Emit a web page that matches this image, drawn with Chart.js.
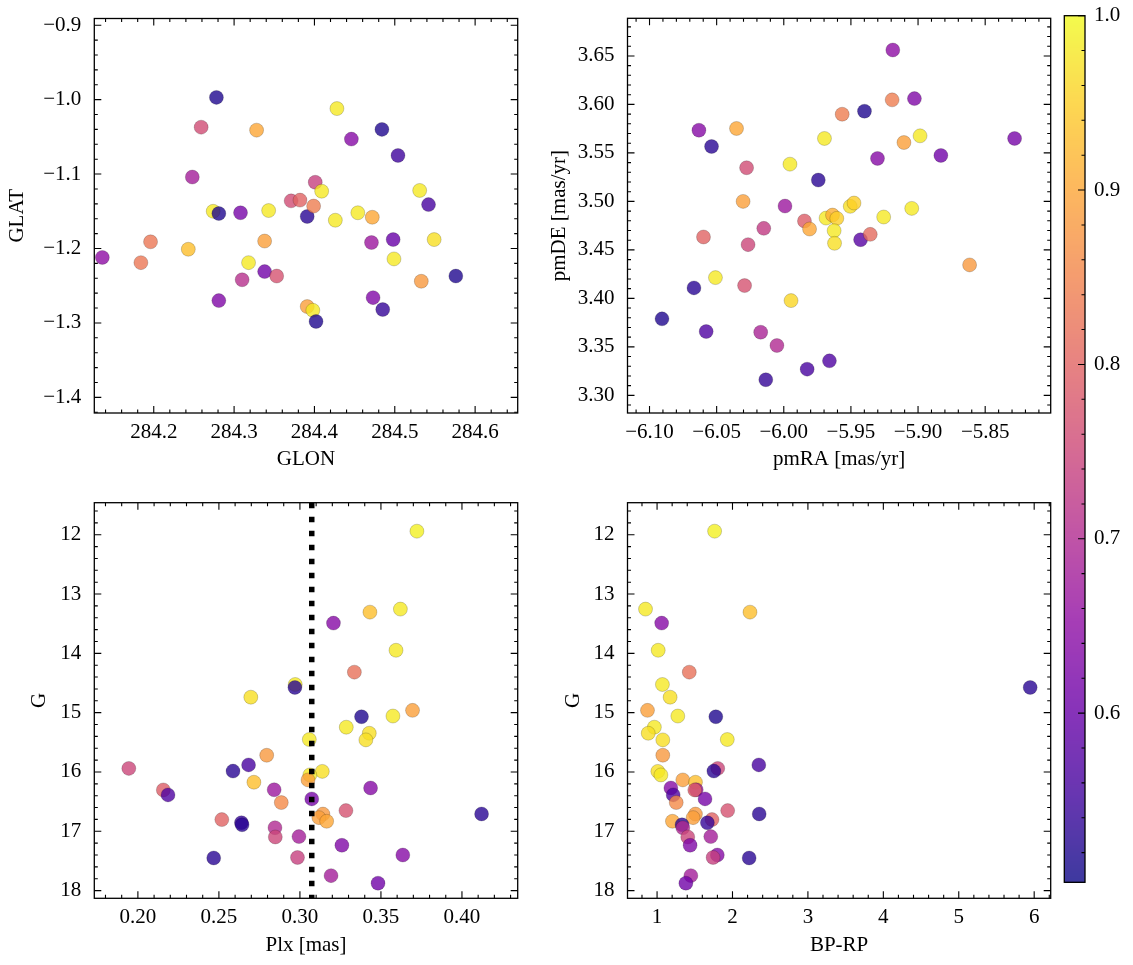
<!DOCTYPE html>
<html>
<head>
<meta charset="utf-8">
<script src="https://cdn.jsdelivr.net/npm/chart.js"></script>
<style>
  html, body { margin: 0; padding: 0; background: #fff; }
  #wrap { position: relative; width: 1133px; height: 965px; }
  canvas { position: absolute; }
</style>
</head>
<body>
<div id="wrap">
  <canvas id="posChart" width="565" height="485" style="left:0;top:0"></canvas>
  <canvas id="pmChart" width="560" height="485" style="left:540px;top:0"></canvas>
  <canvas id="plxChart" width="565" height="480" style="left:0;top:485px"></canvas>
  <canvas id="cmdChart" width="560" height="480" style="left:540px;top:485px"></canvas>
  <canvas id="cbarChart" width="83" height="965" style="left:1050px;top:0"></canvas>
</div>
<script>
// Galactic position panel
const glon = [284.136, 284.184, 284.196, 284.243, 284.259, 284.248, 284.274, 284.281, 284.278, 284.281,
              284.308, 284.310, 284.328, 284.318, 284.338, 284.338, 284.343, 284.353, 284.371, 284.382,
              284.391, 284.401, 284.399, 284.409, 284.391, 284.398, 284.402, 284.428, 284.426, 284.446,
              284.454, 284.472, 284.471, 284.473, 284.484, 284.485, 284.498, 284.499, 284.504, 284.531,
              284.533, 284.542, 284.549, 284.576];
const glat = [-1.212, -1.219, -1.191, -1.201, -1.037, -1.104, -1.150, -1.153, -0.997, -1.270,
              -1.152, -1.242, -1.041, -1.219, -1.231, -1.190, -1.149, -1.237, -1.136, -1.135,
              -1.157, -1.111, -1.143, -1.123, -1.278, -1.283, -1.298, -1.012, -1.162, -1.053,
              -1.152, -1.158, -1.192, -1.266, -1.040, -1.282, -1.188, -1.214, -1.075, -1.122,
              -1.244, -1.141, -1.188, -1.237];
const probPos = [0.65, 0.83, 0.83, 0.93, 0.76, 0.68, 0.98, 0.52, 0.52, 0.63,
                 0.62, 0.71, 0.90, 0.98, 0.61, 0.89, 0.98, 0.77, 0.76, 0.80,
                 0.53, 0.74, 0.84, 0.98, 0.89, 0.98, 0.52, 0.98, 0.98, 0.64,
                 0.98, 0.90, 0.67, 0.63, 0.52, 0.54, 0.60, 0.98, 0.55, 0.98,
                 0.88, 0.56, 0.97, 0.52];

// Proper motion panel
const pmra = [-6.0907, -6.0669, -6.0578, -6.0632, -6.0538, -6.0598, -6.0509, -6.0352, -6.0303, -6.0277,
              -6.0266, -6.0292, -6.0172, -6.0134, -6.0149, -6.0051, -5.9991, -5.9954, -5.9946, -5.9846,
              -5.9826, -5.9808, -5.9743, -5.9697, -5.9685, -5.9637, -5.9605, -5.9625, -5.9622, -5.9660,
              -5.9565, -5.9505, -5.9477, -5.9428, -5.9399, -5.9356, -5.9302, -5.9256, -5.9188, -5.9193,
              -5.9105, -5.9047, -5.9027, -5.8985, -5.8830, -5.8616, -5.8281];
const pmde = [3.3789, 3.4108, 3.3658, 3.5734, 3.5566, 3.4633, 3.4214, 3.5752, 3.5000, 3.5347,
              3.4554, 3.4132, 3.3651, 3.3161, 3.4722, 3.3514, 3.4952, 3.5384, 3.3977, 3.4798,
              3.3270, 3.4715, 3.5220, 3.5649, 3.4828, 3.4859, 3.4825, 3.4698, 3.4568, 3.3356,
              3.5899, 3.4949, 3.4983, 3.4605, 3.5930, 3.4660, 3.5443, 3.4839, 3.6561, 3.6047,
              3.5607, 3.4928, 3.6060, 3.5676, 3.5474, 3.4345, 3.5649];
const probPm = [0.52, 0.53, 0.57, 0.64, 0.53, 0.80, 0.98, 0.90, 0.89, 0.76,
                0.75, 0.77, 0.69, 0.54, 0.73, 0.70, 0.67, 0.98, 0.96, 0.79,
                0.56, 0.90, 0.53, 0.98, 0.98, 0.91, 0.95, 0.98, 0.97, 0.57,
                0.84, 0.97, 0.95, 0.58, 0.52, 0.81, 0.64, 0.98, 0.65, 0.84,
                0.89, 0.98, 0.63, 0.98, 0.61, 0.88, 0.62];

// Photometry / parallax of the same stars (bottom panels)
const gmag = [11.94, 13.254, 13.305, 13.49, 13.948, 14.317, 14.525, 14.575, 14.739, 14.961,
              15.057, 15.069, 15.245, 15.347, 15.453, 15.459, 15.718, 15.881, 15.94, 15.985,
              15.99, 16.05, 16.134, 16.173, 16.27, 16.30, 16.303, 16.387, 16.454, 16.516,
              16.651, 16.708, 16.71, 16.77, 16.803, 16.831, 16.856, 16.89, 16.94, 17.09,
              17.096, 17.236, 17.40, 17.442, 17.45, 17.748, 17.875];
const plx = [0.3722, 0.3620, 0.3432, 0.3207, 0.3593, 0.3336, 0.2971, 0.2969, 0.2697, 0.3695,
             0.3574, 0.3380, 0.3286, 0.3428, 0.3058, 0.3407, 0.2795, 0.2683, 0.1944, 0.2587,
             0.3138, 0.3061, 0.3050, 0.2716, 0.3436, 0.2841, 0.2157, 0.2186, 0.3073, 0.2885,
             0.3284, 0.4121, 0.3142, 0.3117, 0.2518, 0.3165, 0.2639, 0.2643, 0.2846, 0.2994,
             0.2848, 0.3259, 0.3635, 0.2985, 0.2468, 0.3192, 0.3482];
const bprp = [1.763, 0.847, 2.232, 1.061, 1.015, 1.427, 1.071, 5.947, 1.173, 0.873,
              1.275, 1.779, 0.964, 0.883, 1.931, 1.076, 1.076, 2.349, 1.804, 1.753,
              1.010, 1.051, 1.341, 1.509, 1.183, 1.519, 1.500, 1.214, 1.636, 1.254,
              1.936, 2.354, 1.509, 1.478, 1.728, 1.204, 1.667, 1.331, 1.341, 1.712,
              1.407, 1.438, 1.799, 1.743, 2.221, 1.448, 1.382];
const prob = [0.99, 0.98, 0.93, 0.64, 0.98, 0.82, 0.98, 0.53, 0.97, 0.89,
              0.98, 0.52, 0.98, 0.97, 0.98, 0.97, 0.88, 0.56, 0.75, 0.53,
              0.97, 0.98, 0.89, 0.93, 0.64, 0.67, 0.79, 0.57, 0.62, 0.86,
              0.77, 0.53, 0.88, 0.89, 0.80, 0.90, 0.54, 0.53, 0.70, 0.68,
              0.75, 0.63, 0.64, 0.74, 0.53, 0.68, 0.61];
const plxMean = 0.3073;

// Tick labels
const glonTicks = [284.2, 284.3, 284.4, 284.5, 284.6];
const glatTicks = [-0.9, -1.0, -1.1, -1.2, -1.3, -1.4];
const pmraTicks = [-6.10, -6.05, -6.00, -5.95, -5.90, -5.85];
const pmdeTicks = [3.30, 3.35, 3.40, 3.45, 3.50, 3.55, 3.60, 3.65];
const plxTicks = [0.20, 0.25, 0.30, 0.35, 0.40];
const gTicks = [12, 13, 14, 15, 16, 17, 18];
const bprpTicks = [1, 2, 3, 4, 5, 6];
const probTicks = [0.6, 0.7, 0.8, 0.9, 1.0];

const VMIN = 0.503, VMAX = 1.0;
const PLASMA = [[13,8,135],[65,4,157],[106,0,168],[143,13,164],[177,42,144],[204,71,120],
                [225,100,98],[242,132,75],[252,166,54],[252,206,37],[240,249,33]];

function plasma(t) {
    t = Math.max(0, Math.min(1, t)) * 10;
    const i = Math.min(9, Math.floor(t)), f = t - i;
    const a = PLASMA[i], b = PLASMA[i + 1];
    return [0, 1, 2].map(k => Math.round(a[k] + (b[k] - a[k]) * f));
}
function probColor(p, alpha) {
    const c = plasma((p - VMIN) / (VMAX - VMIN));
    return 'rgba(' + c[0] + ',' + c[1] + ',' + c[2] + ',' + alpha + ')';
}
function fmt(dec) {
    return v => (v < 0 ? '\u2212' : '') + Math.abs(v).toFixed(dec);
}

Chart.defaults.font.family = '"Liberation Serif", "DejaVu Serif", serif';
Chart.defaults.font.size = 21;
Chart.defaults.color = '#000';

// frame with inward major/minor ticks on every side
const frameTicks = {
    id: 'frameTicks',
    afterDatasetsDraw(chart, args, opts) {
        const ctx = chart.ctx, a = chart.chartArea;
        ctx.save();
        ctx.strokeStyle = '#000';
        ctx.lineWidth = 1.3;
        ctx.strokeRect(a.left, a.top, a.right - a.left, a.bottom - a.top);
        ctx.beginPath();
        for (const id of ['x', 'y']) {
            const s = chart.scales[id];
            if (!s || !s.options.display || s.ticks.length < 2) continue;
            const vals = s.ticks.map(t => t.value);
            const minor = Math.abs(vals[1] - vals[0]) / 5;
            const lo = Math.min(s.min, s.max), hi = Math.max(s.min, s.max);
            const start = Math.ceil(lo / minor - 1e-6);
            const end = Math.floor(hi / minor + 1e-6);
            for (let k = start; k <= end && k - start < 500; k++) {
                const v = k * minor;
                const isMajor = vals.some(m => Math.abs(m - v) < minor * 0.01);
                const len = isMajor ? 7 : 3.5;
                const p = s.getPixelForValue(v);
                if (id === 'x') {
                    ctx.moveTo(p, a.bottom); ctx.lineTo(p, a.bottom - len);
                    ctx.moveTo(p, a.top); ctx.lineTo(p, a.top + len);
                } else {
                    if (!opts.rightOnly) { ctx.moveTo(a.left, p); ctx.lineTo(a.left + len, p); }
                    ctx.moveTo(a.right, p); ctx.lineTo(a.right - len, p);
                }
            }
        }
        ctx.lineWidth = 1.1;
        ctx.stroke();
        ctx.restore();
    }
};

function fitY(width) {
    return s => { s.width = width; s.paddingTop = 0; s.paddingBottom = 0; };
}
function fitX(height) {
    return s => { s.height = height; s.paddingLeft = 0; s.paddingRight = 0; };
}

function makePanel(id, cfg) {
    const datasets = [{
        type: 'scatter',
        order: 1,
        data: cfg.xs.map((x, i) => ({x: x, y: cfg.ys[i]})),
        backgroundColor: cfg.probs.map(p => probColor(p, 0.8)),
        borderColor: 'rgba(0,0,0,0.3)',
        borderWidth: 0.6,
        pointRadius: 7,
        pointHoverRadius: 7
    }];
    if (cfg.vline !== undefined) {
        datasets.push({
            type: 'line',
            order: 0,
            data: [{x: cfg.vline, y: cfg.yMin}, {x: cfg.vline, y: cfg.yMax}],
            borderColor: '#000',
            borderWidth: 5.5,
            borderDash: [5.5, 8.5],
            borderCapStyle: 'butt',
            pointRadius: 0,
            fill: false
        });
    }
    return new Chart(document.getElementById(id), {
        type: 'scatter',
        data: {datasets: datasets},
        options: {
            responsive: false,
            animation: false,
            devicePixelRatio: 1,
            events: [],
            layout: {padding: cfg.pad},
            plugins: {legend: {display: false}, tooltip: {enabled: false}, frameTicks: {}},
            scales: {
                x: {
                    type: 'linear', min: cfg.xMin, max: cfg.xMax,
                    grid: {display: false, drawTicks: false},
                    border: {display: false},
                    afterBuildTicks: s => { s.ticks = cfg.xTicks.map(v => ({value: v})); },
                    afterFit: fitX(cfg.xHeight),
                    ticks: {padding: 7, maxRotation: 0, autoSkip: false, callback: fmt(cfg.xDec)},
                    title: {display: true, text: cfg.xTitle, padding: {top: 0, bottom: cfg.xTitlePad}}
                },
                y: {
                    type: 'linear', min: cfg.yMin, max: cfg.yMax, reverse: !!cfg.reverseY,
                    grid: {display: false, drawTicks: false},
                    border: {display: false},
                    afterBuildTicks: s => { s.ticks = cfg.yTicks.map(v => ({value: v})); },
                    afterFit: fitY(cfg.yWidth),
                    ticks: {padding: 13, autoSkip: false, callback: fmt(cfg.yDec)},
                    title: {display: true, text: cfg.yTitle, padding: {top: cfg.yTitlePad, bottom: 0}}
                }
            }
        },
        plugins: [frameTicks]
    });
}

makePanel('posChart', {
    xs: glon, ys: glat, probs: probPos,
    xMin: 284.126, xMax: 284.653, yMin: -1.421, yMax: -0.891,
    xTicks: glonTicks, yTicks: glatTicks, xDec: 1, yDec: 1,
    xTitle: 'GLON', yTitle: 'GLAT',
    pad: {top: 18.5, right: 47.3, left: 0, bottom: 0},
    yWidth: 94.3, xHeight: 72, xTitlePad: 13, yTitlePad: 5
});
makePanel('pmChart', {
    xs: pmra, ys: pmde, probs: probPm,
    xMin: -6.1164, xMax: -5.8012, yMin: 3.2818, yMax: 3.6888,
    xTicks: pmraTicks, yTicks: pmdeTicks, xDec: 2, yDec: 2,
    xTitle: 'pmRA [mas/yr]', yTitle: 'pmDE [mas/yr]',
    pad: {top: 18.3, right: 49.3, left: 0, bottom: 0},
    yWidth: 87.5, xHeight: 72, xTitlePad: 13, yTitlePad: 6.4
});
makePanel('plxChart', {
    xs: plx, ys: gmag, probs: prob, vline: plxMean,
    xMin: 0.1731, xMax: 0.4344, yMin: 11.46, yMax: 18.13, reverseY: true,
    xTicks: plxTicks, yTicks: gTicks, xDec: 2, yDec: 0,
    xTitle: 'Plx [mas]', yTitle: 'G',
    pad: {top: 17.7, right: 47.3, left: 0, bottom: 0},
    yWidth: 94.3, xHeight: 66.7, xTitlePad: 7, yTitlePad: 27
});
makePanel('cmdChart', {
    xs: bprp, ys: gmag, probs: prob,
    xMin: 0.608, xMax: 6.219, yMin: 11.46, yMax: 18.13, reverseY: true,
    xTicks: bprpTicks, yTicks: gTicks, xDec: 0, yDec: 0,
    xTitle: 'BP-RP', yTitle: 'G',
    pad: {top: 17.7, right: 49.3, left: 0, bottom: 0},
    yWidth: 87.5, xHeight: 66.7, xTitlePad: 7, yTitlePad: 20.5
});

// colour bar
const cbarFill = {
    id: 'cbarFill',
    beforeDatasetsDraw(chart) {
        const ctx = chart.ctx, a = chart.chartArea, s = chart.scales.y;
        ctx.save();
        for (let py = Math.floor(a.top); py < a.bottom; py++) {
            const v = s.getValueForPixel(py + 0.5);
            ctx.fillStyle = probColor(v, 0.8);
            ctx.fillRect(a.left, py, a.right - a.left, 1);
        }
        ctx.restore();
    }
};
new Chart(document.getElementById('cbarChart'), {
    type: 'scatter',
    data: {datasets: []},
    options: {
        responsive: false,
        animation: false,
        devicePixelRatio: 1,
        events: [],
        layout: {padding: {left: 14.3, top: 15.7, bottom: 82.7, right: 0}},
        plugins: {legend: {display: false}, tooltip: {enabled: false}, frameTicks: {rightOnly: true}},
        scales: {
            x: {type: 'linear', min: 0, max: 1, display: false},
            y: {
                type: 'linear', position: 'right', min: VMIN, max: VMAX,
                grid: {display: false, drawTicks: false},
                border: {display: false},
                afterBuildTicks: s => { s.ticks = probTicks.map(v => ({value: v})); },
                afterFit: fitY(48),
                ticks: {padding: 9, autoSkip: false, callback: fmt(1)}
            }
        }
    },
    plugins: [cbarFill, frameTicks]
});
</script>
</body>
</html>
